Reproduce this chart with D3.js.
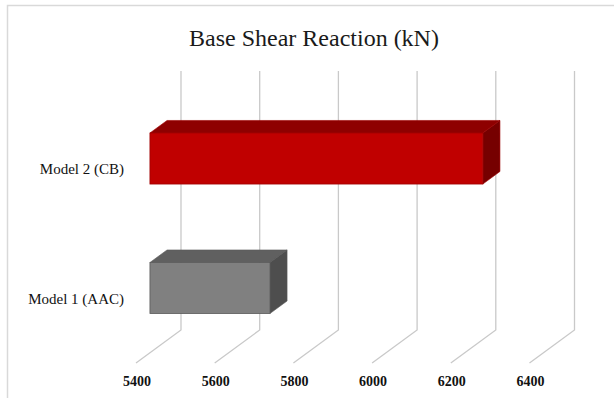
<!DOCTYPE html>
<html>
<head>
<meta charset="utf-8">
<script src="https://cdn.jsdelivr.net/npm/d3@7"></script>
<style>
  body { margin: 0; background: #fff; }
  svg { display: block; font-family: "Liberation Serif", "Times New Roman", serif; }
</style>
</head>
<body>
<div class="demo"></div>
<script>
(function() {
    var categories = ["Model 2 (CB)", "Model 1 (AAC)"];
    var values = [6246, 5705];
    var tickValues = [5400, 5600, 5800, 6000, 6200, 6400];
    var title = "Base Shear Reaction (kN)";

    var width = 614,
        height = 398;

    // depth of the 3d box: front plane is depth 0, back wall is depth 1
    var depthX = 45,
        depthY = -33;
    var barFront = 0.31,
        barBack = 0.69;

    var colors = [
        { front: "#c00000", top: "#8e0000", side: "#760000", edge: "#a00000" },
        { front: "#808080", top: "#606060", side: "#4e4e4e", edge: "#5a5a5a" }
    ];

    var svg = d3.select(".demo").append("svg")
        .attr("width", width)
        .attr("height", height);

    // chart border
    svg.append("rect")
        .attr("x", 7.5)
        .attr("y", 5.5)
        .attr("width", 640)
        .attr("height", 420)
        .attr("fill", "#fff")
        .attr("stroke", "#d9d9d9")
        .attr("stroke-width", 1.5);

    svg.append("text")
        .attr("x", 314)
        .attr("y", 46)
        .attr("text-anchor", "middle")
        .style("font-size", "24px")
        .attr("fill", "#1a1a1a")
        .text(title);

    // scales on the front plane
    var x = d3.scaleLinear()
        .domain([5400, 6400])
        .range([136, 529.5]);

    var y = d3.scaleBand()
        .domain(categories)
        .range([104, 363])
        .paddingInner(0.606)
        .paddingOuter(0.303);

    function px(v, d) { return x(v) + depthX * d; }
    function py(v, d) { return v + depthY * d; }

    var floorY = y.range()[1],
        topY = y.range()[0];

    // back wall gridlines + floor lines
    var grid = svg.append("g")
        .attr("fill", "none")
        .attr("stroke", "#c9c9c9")
        .attr("stroke-width", 1.3);

    grid.selectAll("path")
        .data(tickValues)
        .enter().append("path")
        .attr("d", function(d) {
            return "M" + px(d, 1) + "," + py(topY, 1) +
                "L" + px(d, 1) + "," + py(floorY, 1) +
                "L" + px(d, 0) + "," + py(floorY, 0);
        });

    // tick labels
    svg.append("g").selectAll("text")
        .data(tickValues)
        .enter().append("text")
        .attr("x", function(d) { return x(d) + 1; })
        .attr("y", 386)
        .attr("text-anchor", "middle")
        .style("font-size", "14px")
        .style("font-weight", "bold")
        .attr("fill", "#111")
        .text(function(d) { return d; });

    // category labels
    svg.append("g").selectAll("text")
        .data(categories)
        .enter().append("text")
        .attr("x", 124)
        .attr("y", function(d) { return y(d) + y.bandwidth() / 2; })
        .attr("dy", "0.35em")
        .attr("text-anchor", "end")
        .style("font-size", "15px")
        .attr("fill", "#111")
        .text(function(d) { return d; });

    // 3d bars
    var bars = svg.append("g").selectAll("g")
        .data(values)
        .enter().append("g");

    bars.each(function(v, i) {
        var g = d3.select(this);
        var c = colors[i];
        var cat = categories[i];
        var x0 = 5400, y0 = y(cat), y1 = y(cat) + y.bandwidth();

        function pt(xv, yv, d) { return px(xv, d) + "," + py(yv, d); }

        // top face
        g.append("polygon")
            .attr("points", [pt(x0, y0, barFront), pt(v, y0, barFront), pt(v, y0, barBack), pt(x0, y0, barBack)].join(" "))
            .attr("fill", c.top)
            .attr("stroke", c.edge)
            .attr("stroke-width", 0.6);

        // side face
        g.append("polygon")
            .attr("points", [pt(v, y0, barFront), pt(v, y1, barFront), pt(v, y1, barBack), pt(v, y0, barBack)].join(" "))
            .attr("fill", c.side)
            .attr("stroke", c.edge)
            .attr("stroke-width", 0.6);

        // front face
        g.append("rect")
            .attr("x", px(x0, barFront))
            .attr("y", py(y0, barFront))
            .attr("width", px(v, barFront) - px(x0, barFront))
            .attr("height", y1 - y0)
            .attr("fill", c.front)
            .attr("stroke", c.edge)
            .attr("stroke-width", 0.8);
    });
})();
</script>
</body>
</html>
